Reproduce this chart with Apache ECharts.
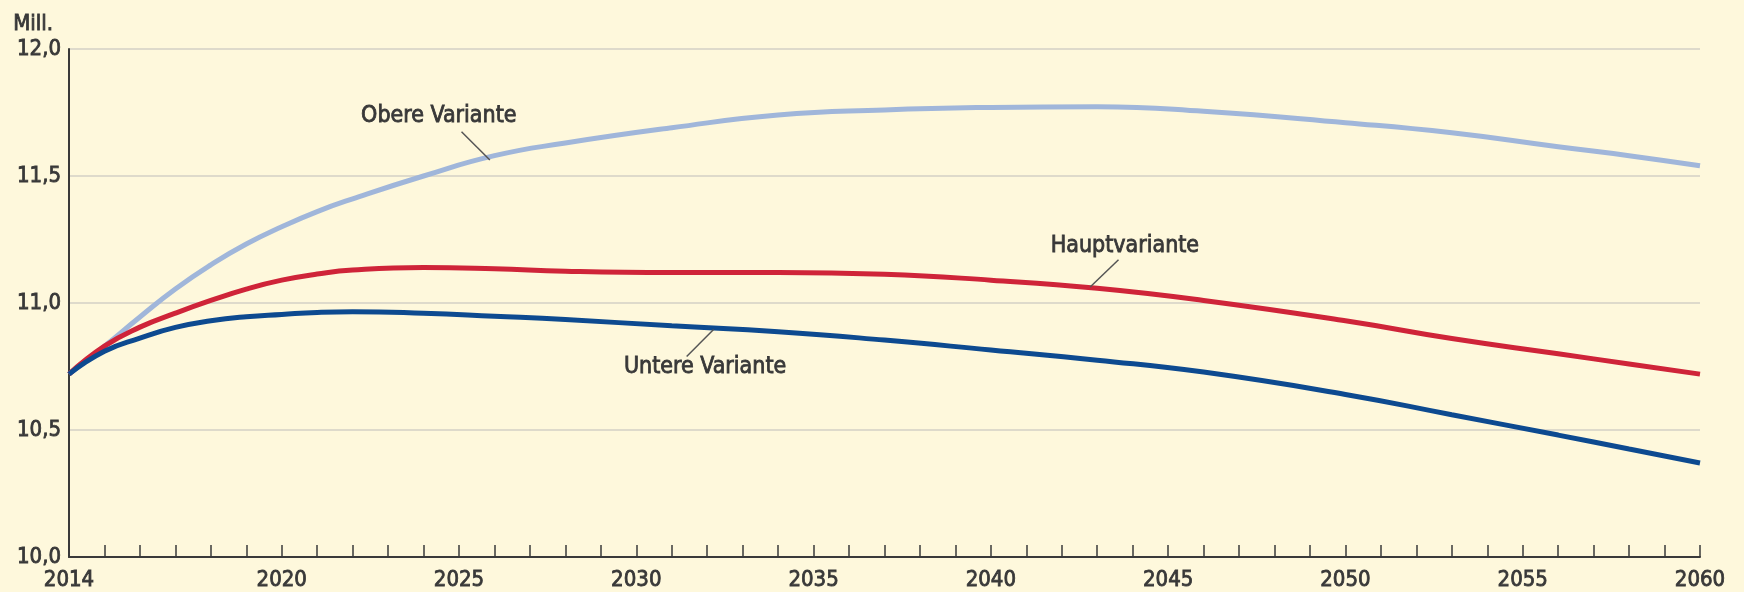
<!DOCTYPE html>
<html>
<head>
<meta charset="utf-8">
<title>Bevölkerung</title>
<script src="https://cdn.jsdelivr.net/npm/echarts@6/dist/echarts.min.js"></script>
<style>
  html, body { margin: 0; padding: 0; background: #fef8dc; }
  #chart { width: 1744px; height: 592px; }
</style>
</head>
<body>
<div id="chart"></div>
<script>
var years = [2014, 2015, 2016, 2017, 2018, 2019, 2020, 2021, 2022, 2024, 2026, 2028, 2031, 2034, 2037, 2040, 2043, 2046, 2050, 2053, 2056, 2058, 2060];

// Mill.
var obereVariante = [10.72, 10.83, 10.945, 11.055, 11.15, 11.232, 11.30, 11.36, 11.41, 11.50, 11.58, 11.63, 11.69, 11.74, 11.76, 11.77, 11.773, 11.755, 11.71, 11.67, 11.615, 11.58, 11.54];
var hauptVariante = [10.72, 10.83, 10.905, 10.96, 11.01, 11.055, 11.09, 11.114, 11.13, 11.14, 11.135, 11.125, 11.12, 11.12, 11.113, 11.09, 11.058, 11.01, 10.93, 10.86, 10.80, 10.76, 10.72];
var untereVariante = [10.72, 10.81, 10.862, 10.904, 10.93, 10.946, 10.955, 10.963, 10.966, 10.96, 10.948, 10.935, 10.91, 10.887, 10.854, 10.815, 10.775, 10.728, 10.64, 10.56, 10.48, 10.425, 10.37];

var xTickLabels = [2014, 2020, 2025, 2030, 2035, 2040, 2045, 2050, 2055, 2060];
var yTickLabels = ['10,0', '10,5', '11,0', '11,5', '12,0'];

var FONT = "'Liberation Sans Narrow', 'DejaVu Sans Condensed', sans-serif";
var TEXT = '#383838';

// etwas kräftiger als normal, aber nicht ganz fett
function txt(size, extra) {
    return Object.assign({
        color: TEXT,
        fontFamily: FONT,
        fontSize: size,
        textBorderColor: TEXT,
        textBorderWidth: 0.8
    }, extra);
}

function pairs(vals) {
    return years.map(function (y, i) { return [y, vals[i]]; });
}

function note(text, at, from, to) {
    return {
        markPoint: {
            silent: true,
            symbol: 'circle',
            symbolSize: 0,
            label: txt(23, { show: true, position: 'inside', formatter: text }),
            data: [{ coord: at }]
        },
        markLine: {
            silent: true,
            symbol: 'none',
            label: { show: false },
            lineStyle: { color: '#555', width: 1.5, type: 'solid' },
            data: [[{ coord: from }, { coord: to }]]
        }
    };
}

function line(name, color, vals, n) {
    return Object.assign({
        name: name,
        type: 'line',
        smooth: 0.5,
        showSymbol: false,
        lineStyle: { color: color, width: 5 },
        itemStyle: { color: color },
        data: pairs(vals)
    }, n);
}

var chart = echarts.init(document.getElementById('chart'));
chart.setOption({
    backgroundColor: '#fef8dc',
    animation: false,
    grid: { left: 69, right: 44, top: 49, bottom: 35 },
    xAxis: {
        type: 'value',
        min: 2014,
        max: 2060,
        interval: 1,
        axisLine: { show: true, onZero: false, lineStyle: { color: '#3a3a3a', width: 2 } },
        axisTick: { show: true, inside: true, length: 12, lineStyle: { color: '#3a3a3a', width: 1.5 } },
        splitLine: { show: false },
        axisLabel: txt(22, {
            margin: 12,
            formatter: function (v) {
                return xTickLabels.indexOf(v) >= 0 ? String(v) : '';
            }
        })
    },
    yAxis: {
        type: 'value',
        min: 10,
        max: 12,
        interval: 0.5,
        name: 'Mill.',
        nameLocation: 'end',
        nameGap: 14,
        nameTextStyle: txt(22, { align: 'right', padding: [0, 16, 0, 0] }),
        axisLine: { show: true, lineStyle: { color: '#3a3a3a', width: 2 } },
        axisTick: { show: false },
        splitLine: { show: true, lineStyle: { color: '#d3d1c6', width: 1.5 } },
        axisLabel: txt(22, {
            margin: 8,
            formatter: function (v) {
                return yTickLabels[Math.round((v - 10) / 0.5)];
            }
        })
    },
    series: [
        line('Obere Variante', '#a0b6da', obereVariante,
            note('Obere Variante', [2024.43, 11.735], [2025.07, 11.674], [2025.87, 11.563])),
        line('Hauptvariante', '#cf2439', hauptVariante,
            note('Hauptvariante', [2043.78, 11.224], [2043.6, 11.17], [2042.8, 11.063])),
        line('Untere Variante', '#0d4a90', untereVariante,
            note('Untere Variante', [2031.94, 10.748], [2031.42, 10.789], [2032.18, 10.896]))
    ]
});
</script>
</body>
</html>
